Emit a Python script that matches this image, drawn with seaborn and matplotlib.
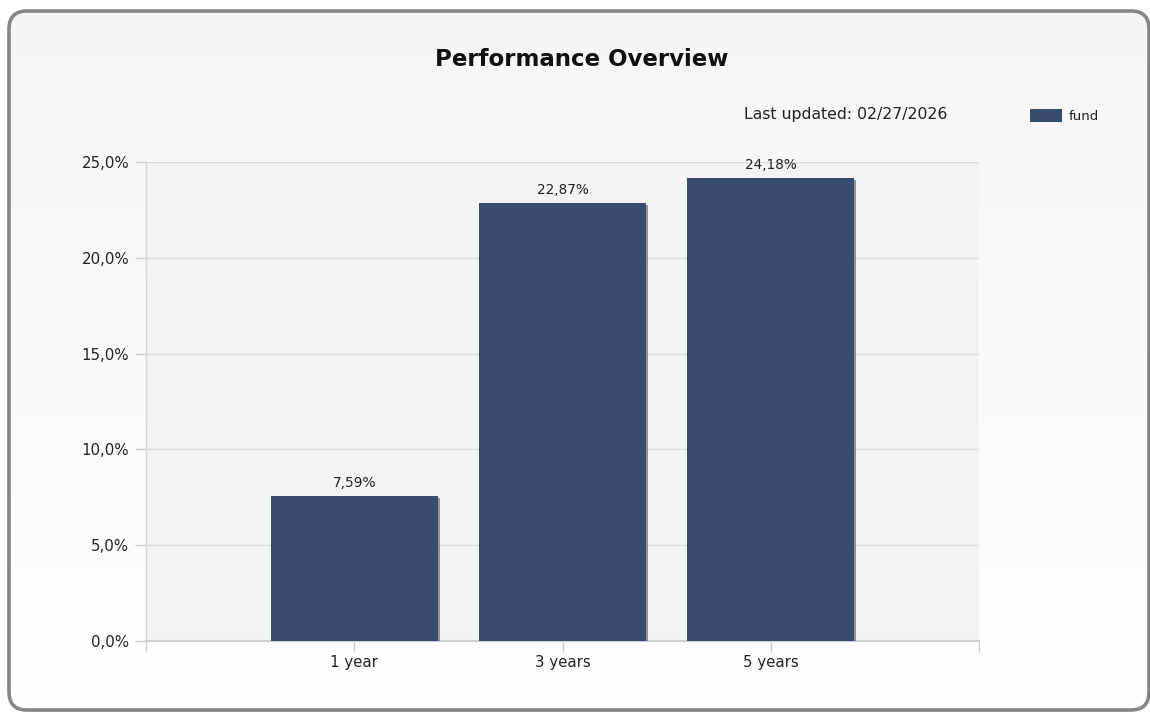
import numpy as np
import pandas as pd
import matplotlib
matplotlib.use("Agg")
import matplotlib.pyplot as plt
import matplotlib.patheffects as pe
from matplotlib.patches import FancyBboxPatch
from matplotlib.ticker import FuncFormatter, FixedLocator
import seaborn as sns

# ---- data ----
categories = ["1 year", "3 years", "5 years"]
values = [7.59, 22.87, 24.18]
series_name = "fund"
y_ticks = [0, 5, 10, 15, 20, 25]
title = "Performance Overview"
updated = "Last updated: 02/27/2026"

df = pd.DataFrame({"period": categories, "value": values})

sns.set_theme(style="white")
plt.rcParams["font.family"] = ["DejaVu Sans"]

BAR = "#384c6e"
TXT = "#222222"

fig = plt.figure(figsize=(11.5, 7.12), dpi=100)
fig.patch.set_facecolor("white")

# rounded frame with vertical gradient
bg = fig.add_axes([0, 0, 1, 1], zorder=-10)
bg.set_xlim(0, 1150); bg.set_ylim(712, 0); bg.axis("off")
grad = np.linspace(0.962, 1.0, 256).reshape(-1, 1)
img = bg.imshow(np.dstack([grad, grad, grad]), extent=[8, 1150, 712, 10], aspect="auto", zorder=0)
frame = FancyBboxPatch((9, 11), 1140, 699, boxstyle="round,pad=0,rounding_size=18",
                       facecolor="none", edgecolor="#858585", linewidth=2.6, zorder=2)
bg.add_patch(frame)
img.set_clip_path(frame)

ax = fig.add_axes([146 / 1150, 71 / 712, 833 / 1150, 479 / 712])
ax.set_facecolor("#f3f3f3")

sns.barplot(data=df, x="period", y="value", color=BAR, width=0.8, saturation=1,
            ax=ax, zorder=3)
for p in ax.patches:
    p.set_path_effects([pe.SimplePatchShadow(offset=(1.5, -1.5), shadow_rgbFace="#555555", alpha=0.6),
                        pe.Normal()])
    p.set_linewidth(0)

ax.set_xlim(-1, 3)
ax.set_ylim(0, 25)
ax.xaxis.set_major_locator(FixedLocator([-1, 0, 1, 2, 3]))
ax.set_xticklabels([""] + categories + [""])
ax.yaxis.set_major_locator(FixedLocator(y_ticks))
ax.yaxis.set_major_formatter(FuncFormatter(lambda v, _: f"{v:.1f}%".replace(".", ",")))
ax.set_xlabel("")
ax.set_ylabel("")

ax.grid(axis="y", color="#dcdcdc", linewidth=1, zorder=0)
ax.set_axisbelow(True)
for s in ["top", "right"]:
    ax.spines[s].set_visible(False)
ax.spines["left"].set_color("#d6d6d6")
ax.spines["bottom"].set_color("#cfcfcf")
ax.spines["left"].set_linewidth(1)
ax.spines["bottom"].set_linewidth(1.5)
ax.tick_params(axis="both", which="both", length=8, width=1, color="#cccccc",
               labelsize=10.8, labelcolor=TXT, pad=4, bottom=True, left=True)
ax.tick_params(axis="x", pad=2)

for p, v in zip(ax.patches, values):
    ax.annotate(f"{v:.2f}%".replace(".", ","), (p.get_x() + p.get_width() / 2, p.get_height()),
                xytext=(0, 4), textcoords="offset points", ha="center", va="bottom",
                fontsize=9.8, color=TXT)

fig.text(582 / 1150, 1 - 59 / 712, title, ha="center", va="center", fontsize=16.5,
         fontweight="bold", color="#111111")
fig.text(744 / 1150, 1 - 115 / 712, updated, ha="left", va="center", fontsize=11.3, color=TXT)

leg = fig.legend([plt.Rectangle((0, 0), 1, 1, facecolor=BAR, edgecolor="none")], [series_name],
                 loc="center left", bbox_to_anchor=(1030 / 1150, 1 - 116 / 712),
                 frameon=False, fontsize=9.5, handlelength=2.4, handleheight=1.1,
                 handletextpad=0.55, borderpad=0, borderaxespad=0)
for t in leg.get_texts():
    t.set_color(TXT)

fig.savefig("out.png", dpi=100)
